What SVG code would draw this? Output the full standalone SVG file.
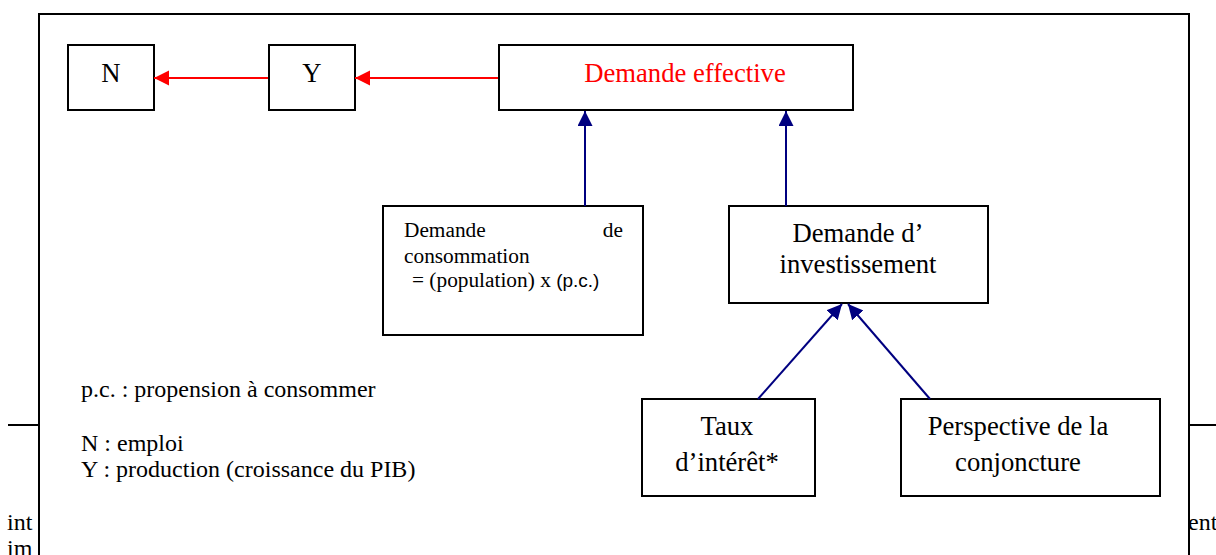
<svg xmlns="http://www.w3.org/2000/svg" width="1216" height="555" viewBox="0 0 1216 555">
<style>
text{font-family:'Liberation Serif','DejaVu Serif',serif;fill:#000}
.box{fill:#fff;stroke:#000;stroke-width:2}
.red{stroke:#f00;stroke-width:2;fill:none}
.blue{stroke:#000080;stroke-width:2;fill:none}
</style>
<defs>
<marker id="ar" markerUnits="userSpaceOnUse" markerWidth="16" markerHeight="16" refX="15" refY="7.5" orient="auto"><path d="M0,0 L15,7.5 L0,15 Z" fill="#f00"/></marker>
<marker id="ab" markerUnits="userSpaceOnUse" markerWidth="16" markerHeight="16" refX="15" refY="7.5" orient="auto"><path d="M0,0 L15,7.5 L0,15 Z" fill="#000080"/></marker>
</defs>
<rect width="1216" height="555" fill="#fff"/>
<g id="background" font-family="Liberation Serif, serif">
<line x1="8" y1="425" x2="39" y2="425" stroke="#000" stroke-width="2"/>
<line x1="1189" y1="425" x2="1216" y2="425" stroke="#000" stroke-width="2"/>
<text x="7" y="530" font-size="24">int</text>
<text x="7" y="556" font-size="24">im</text>
<text x="1188" y="530" font-size="24">ent</text>
</g>
<rect id="frame" x="39" y="14" width="1150" height="560" class="box"/>
<g id="n-N"><rect x="68" y="45" width="86" height="65" class="box"/><text x="111" y="82" font-size="26.67" text-anchor="middle">N</text></g>
<g id="n-Y"><rect x="269" y="45" width="86" height="65" class="box"/><text x="312" y="82" font-size="26.67" text-anchor="middle">Y</text></g>
<g id="n-DE"><rect x="499" y="45" width="354" height="65" class="box"/><text x="685" y="82" font-size="26.67" text-anchor="middle" style="fill:#f00">Demande effective</text></g>
<g id="n-DC"><rect x="383" y="206" width="260" height="129" class="box"/>
<text x="404" y="237" font-size="21.33">Demande</text>
<text x="623" y="237" font-size="21.33" text-anchor="end">de</text>
<text x="404" y="263" font-size="21.33">consommation</text>
<text x="412" y="287" font-size="21.33">= (population) x <tspan style="font-family:'Liberation Sans',Arial,sans-serif" font-size="19">(p.c.)</tspan></text>
</g>
<g id="n-DI"><rect x="729" y="206" width="259" height="97" class="box"/>
<text x="858" y="242" font-size="26.67" text-anchor="middle">Demande d’</text>
<text x="858" y="273" font-size="26.67" text-anchor="middle">investissement</text>
</g>
<g id="n-TI"><rect x="642" y="399" width="173" height="97" class="box"/>
<text x="727" y="435" font-size="26.67" text-anchor="middle">Taux</text>
<text x="727" y="471" font-size="26.67" text-anchor="middle">d’intérêt*</text>
</g>
<g id="n-PC"><rect x="901" y="399" width="259" height="97" class="box"/>
<text x="1018" y="435" font-size="26.67" text-anchor="middle">Perspective de la</text>
<text x="1018" y="471" font-size="26.67" text-anchor="middle">conjoncture</text>
</g>
<g id="legend">
<text x="81" y="397" font-size="24">p.c. : propension à consommer</text>
<text x="81" y="451" font-size="24">N : emploi</text>
<text x="81" y="477" font-size="24">Y : production (croissance du PIB)</text>
</g>
<g id="connectors">
<line x1="498" y1="78" x2="355" y2="78" class="red" marker-end="url(#ar)"/>
<line x1="268" y1="78" x2="154" y2="78" class="red" marker-end="url(#ar)"/>
<line x1="585" y1="206" x2="585" y2="111" class="blue" marker-end="url(#ab)"/>
<line x1="786" y1="206" x2="786" y2="111" class="blue" marker-end="url(#ab)"/>
<line x1="758" y1="399" x2="842" y2="304" class="blue" marker-end="url(#ab)"/>
<line x1="930" y1="399" x2="848" y2="304" class="blue" marker-end="url(#ab)"/>
</g>
</svg>
